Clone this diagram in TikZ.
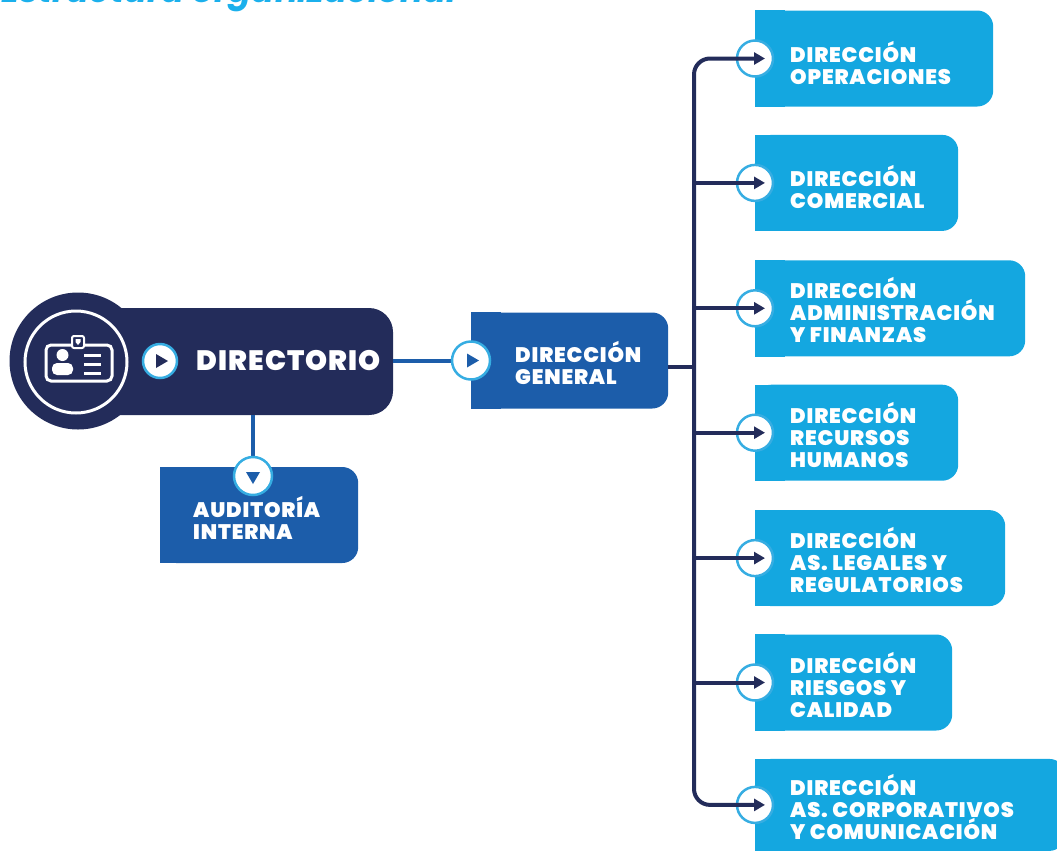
\documentclass[tikz,border=0pt]{standalone}
\usepackage{fontspec}
\newfontfamily\orgfont{Poppins}[LetterSpace=4, BoldFont={Poppins Black}]
\newfontfamily\titlefont{Poppins}
\usetikzlibrary{arrows.meta,positioning}
\definecolor{navy}{HTML}{232C5A}
\definecolor{midblue}{HTML}{1C5DAA}
\definecolor{lightblue}{HTML}{14A7E0}
\definecolor{ringblue}{HTML}{36ADE2}
\definecolor{titleblue}{HTML}{1BB0EC}

\begin{document}
\begin{tikzpicture}[
    x=1pt, y=-1pt,
    >={Triangle[length=11pt,width=12pt]},
    font=\orgfont\bfseries,
    dirbox/.style={
        rectangle,
        rounded corners=16pt,
        fill=lightblue,
        minimum height=96pt,
        anchor=west
    },
    bluebox/.style={
        dirbox,
        fill=midblue
    },
    boxtext/.style={
        text=white,
        align=left,
        inner sep=0pt,
        font=\orgfont\bfseries\fontsize{21}{22}\selectfont
    },
    ring/.style={
        circle,
        fill=white,
        draw=ringblue,
        line width=2.5pt,
        minimum size=36pt,
        inner sep=0pt
    },
    navyline/.style={
        draw=navy,
        line width=4pt
    },
    blueline/.style={
        draw=midblue,
        line width=4pt
    }
  ]
  \useasboundingbox (0,0) rectangle (1057,852);

  % title, cut by the top edge
  \node[anchor=base west, inner sep=0pt, text=titleblue,
        font=\titlefont\bfseries\itshape\fontsize{34}{34}\selectfont] (title) at (1,2) {Estructura organizacional};

  % We start by placing the blocks
  \node[rectangle, rounded corners=24pt, fill=navy, minimum width=315pt, minimum height=107pt] (dir) at (235.5,361.5) {};
  \node[circle, fill=navy, minimum size=137pt] (badge) at (78,361) {};
  \node[circle, draw=white, line width=3pt, minimum size=102pt] (badge-ring) at (76,362) {};

  \node[bluebox, minimum width=197pt] (dg) at (471,360.5) {};
  \node[bluebox, minimum width=198pt] (aud) at (160,515) {};

  \node[dirbox, minimum width=238pt] (ops) at (755,58.5) {};
  \node[dirbox, minimum width=203pt, below=28pt of ops.south west, anchor=north west] (com) {};
  \node[dirbox, minimum width=270pt, below=29pt of com.south west, anchor=north west] (adm) {};
  \node[dirbox, minimum width=203pt, below=28pt of adm.south west, anchor=north west] (rrhh) {};
  \node[dirbox, minimum width=250pt, below=29pt of rrhh.south west, anchor=north west] (leg) {};
  \node[dirbox, minimum width=197pt, below=28pt of leg.south west, anchor=north west] (rie) {};
  \node[dirbox, minimum width=310pt, minimum height=92pt, below=28pt of rie.south west, anchor=north west] (corp) {};

  % square left side of the boxes
  \foreach \b/\c in {dg/midblue,aud/midblue,ops/lightblue,com/lightblue,adm/lightblue,rrhh/lightblue,leg/lightblue,rie/lightblue,corp/lightblue}
    \fill[\c] (\b.north west) rectangle ([xshift=30pt]\b.south west);

  % badge icon
  \draw[white, line width=3pt, rounded corners=5pt] (46,345) rectangle (112,381);
  \filldraw[fill=navy, draw=white, line width=2pt, rounded corners=2pt] (72,336) rectangle (84,348);
  \fill[white] (75.5,339) -- (80.5,339) -- (80.5,342) -- (78,345) -- (75.5,342) -- cycle;
  \fill[white] (62.5,355) circle (6);
  \fill[white, rounded corners=5pt] (52,375) rectangle (73,363);
  \draw[white, line width=3pt] (84,355) -- (101,355) (84,364) -- (101,364) (84,373) -- (101,373);

  % texts
  \node[ring, minimum size=34pt] (dir-c) at (160,361) {};
  \node[boxtext, font=\orgfont\bfseries\fontsize{28}{28}\selectfont, right=18pt of dir-c] (dir-t) {DIRECTORIO};
  \node[boxtext, right=44pt of dg.west, yshift=-2pt] (dg-t) {DIRECCIÓN\\GENERAL};
  \node[boxtext, right=33pt of aud.west, yshift=-3pt] (aud-t) {AUDITORÍA\\INTERNA};
  \node[boxtext, right=35pt of ops.west, yshift=-4pt] (ops-t) {DIRECCIÓN\\OPERACIONES};
  \node[boxtext, right=35pt of com.west, yshift=-4pt] (com-t) {DIRECCIÓN\\COMERCIAL};
  \node[boxtext, right=35pt of adm.west, yshift=-2pt] (adm-t) {DIRECCIÓN\\ADMINISTRACIÓN\\Y FINANZAS};
  \node[boxtext, right=35pt of rrhh.west, yshift=-2pt] (rrhh-t) {DIRECCIÓN\\RECURSOS\\HUMANOS};
  \node[boxtext, right=35pt of leg.west, yshift=-2pt] (leg-t) {DIRECCIÓN\\AS. LEGALES Y\\REGULATORIOS};
  \node[boxtext, right=35pt of rie.west, yshift=-2pt] (rie-t) {DIRECCIÓN\\RIESGOS Y\\CALIDAD};
  \node[boxtext, right=35pt of corp.west, yshift=-2pt] (corp-t) {DIRECCIÓN\\AS. CORPORATIVOS\\Y COMUNICACIÓN};

  % blue links
  \coordinate (tr) at (694,367);
  \draw[blueline] (dir.east |- dg.west) -- (dg.west);
  \draw[blueline] (dir.south -| 253,0) -- (253,476);
  \draw[navyline] ([yshift=-6.5pt]dg.east) -- (tr);

  % circles on the boxes
  \node[ring, minimum size=38pt] (dg-c) at (dg.west) {};
  \node[ring, minimum size=38pt] (aud-c) at (253,476) {};
  \node[ring] (ops-c) at (ops.west) {};
  \node[ring] (com-c) at (com.west) {};
  \node[ring] (adm-c) at (adm.west) {};
  \node[ring] (rrhh-c) at (rrhh.west) {};
  \node[ring] (leg-c) at (leg.west) {};
  \node[ring] (rie-c) at (rie.west) {};
  \node[ring] (corp-c) at (corp.west) {};

  \fill[navy] (dir-c.center) ++(-4,-7) -- ++(0,14) -- ++(12,-7) -- cycle;
  \fill[midblue] (dg-c.center) ++(-4,-7) -- ++(0,14) -- ++(12,-7) -- cycle;
  \fill[midblue] (aud-c.center) ++(-7,-4) -- ++(14,0) -- ++(-7,12) -- cycle;

  % arrows to the directions
  \draw[navyline, rounded corners=16pt, <->] ([xshift=10pt]ops-c.center) -- (tr |- ops-c) -- (tr |- corp-c) -- ([xshift=10pt]corp-c.center);
  \draw[navyline, ->] (tr |- com-c) -- ([xshift=10pt]com-c.center);
  \draw[navyline, ->] (tr |- adm-c) -- ([xshift=10pt]adm-c.center);
  \draw[navyline, ->] (tr |- rrhh-c) -- ([xshift=10pt]rrhh-c.center);
  \draw[navyline, ->] (tr |- leg-c) -- ([xshift=10pt]leg-c.center);
  \draw[navyline, ->] (tr |- rie-c) -- ([xshift=10pt]rie-c.center);

\end{tikzpicture}
\end{document}
